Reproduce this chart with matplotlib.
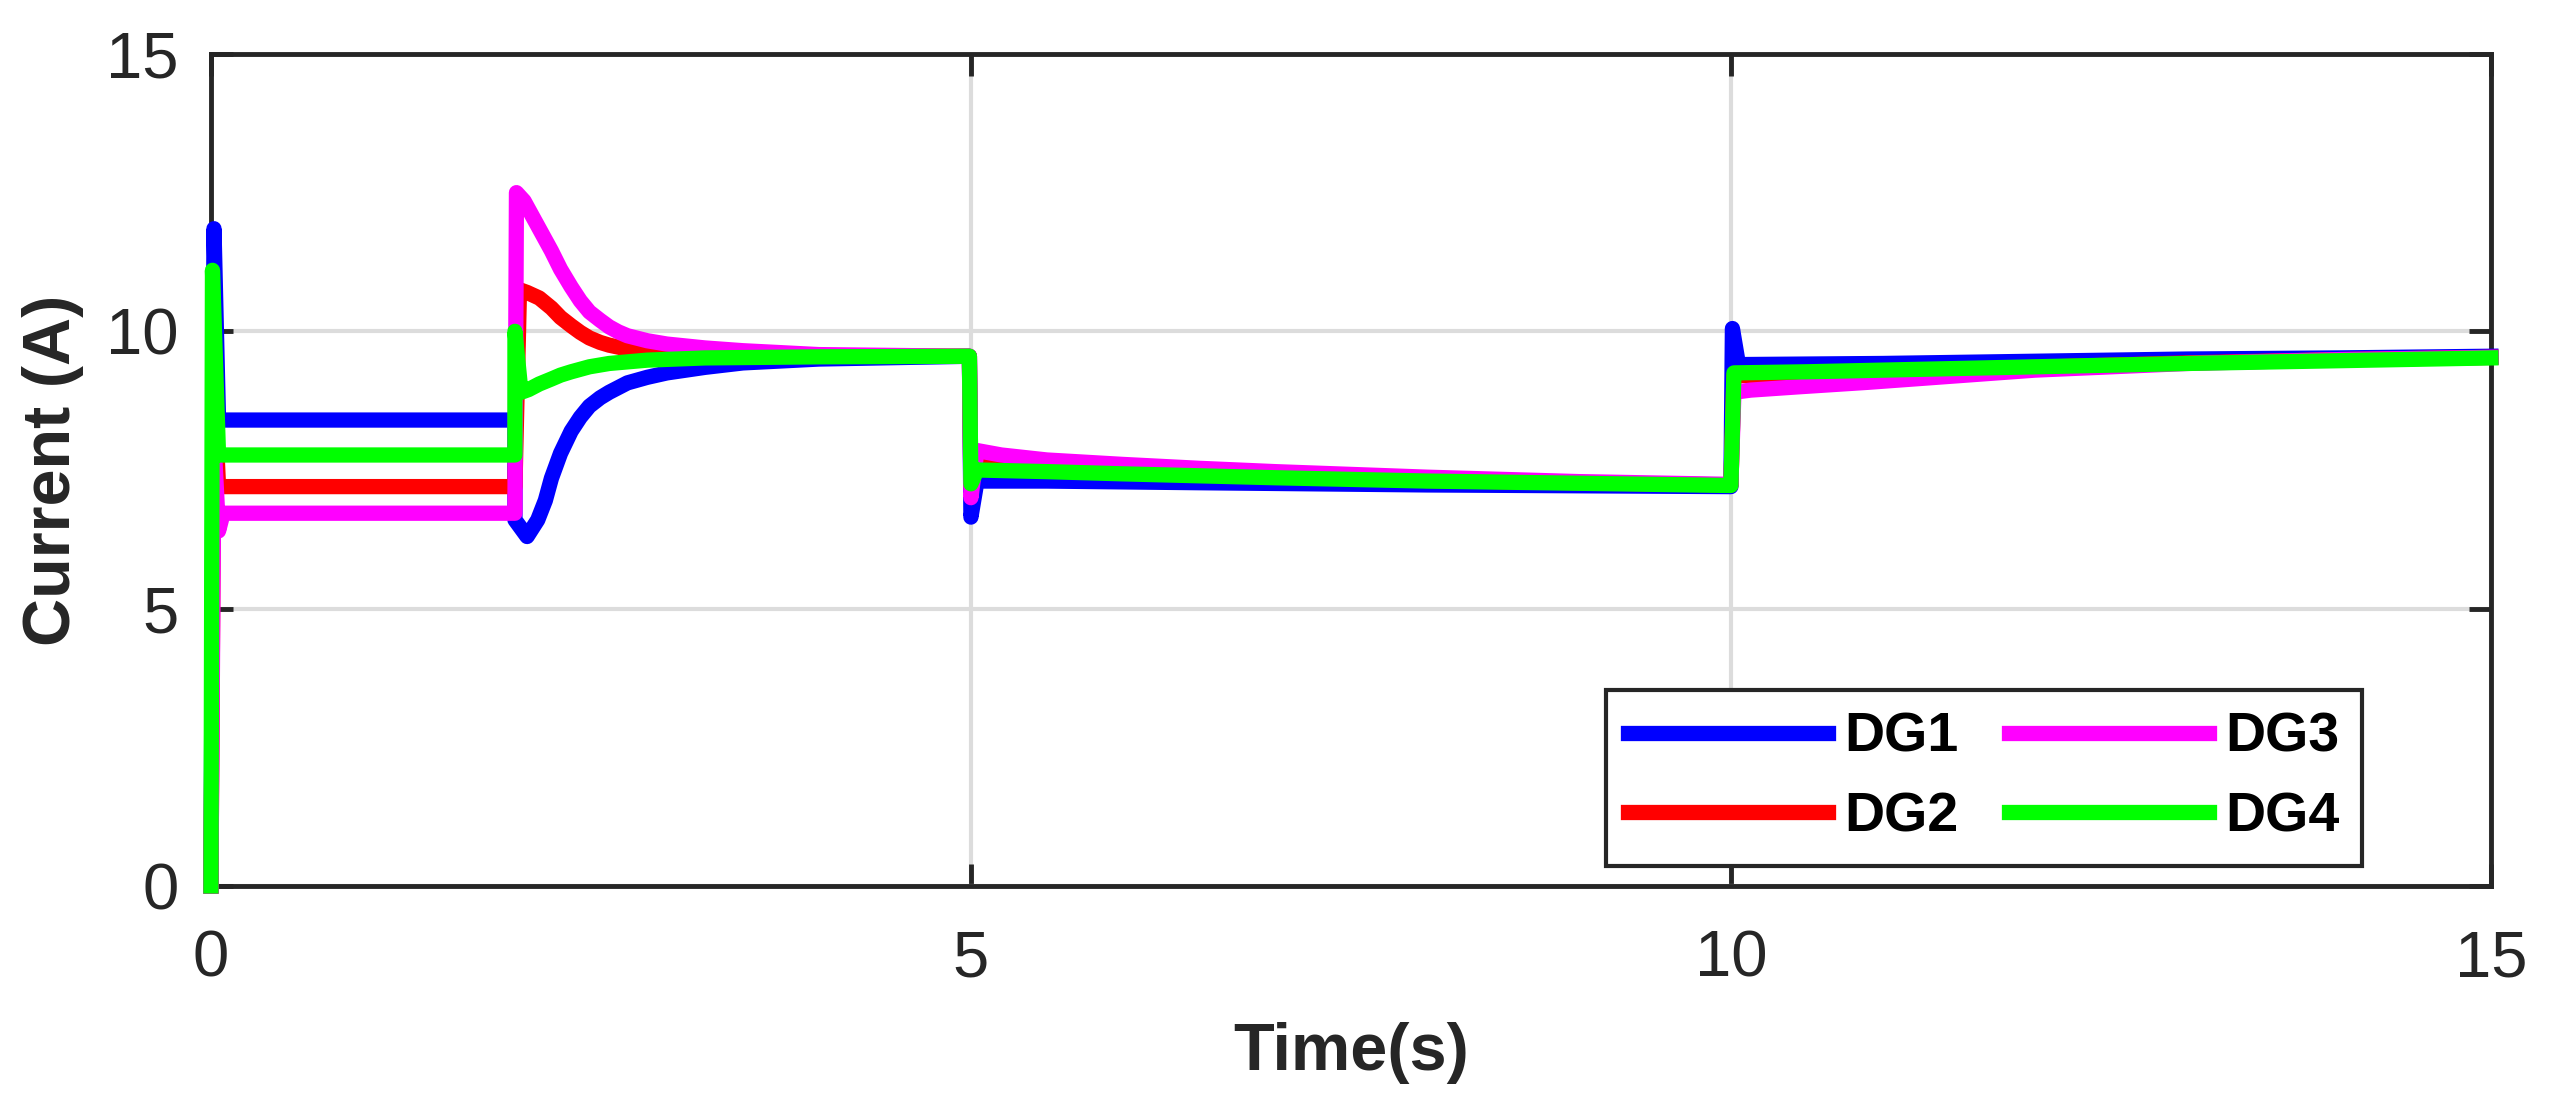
import matplotlib
matplotlib.use("Agg")
import matplotlib.pyplot as plt

plt.rcParams['font.family'] = ['Liberation Sans', 'DejaVu Sans']

# DG1 (blue)
t_dg1 = [0, 0.02, 0.05, 2.0, 2.0, 2.08, 2.15, 2.2, 2.24, 2.3, 2.37, 2.43, 2.49, 2.56, 2.62, 2.74, 2.87, 3.0,
         3.25, 3.5, 4.0, 4.99, 5.0, 5.04, 5.5, 6.5, 8.0, 10.0, 10.01, 10.05, 11.0, 12.0, 13.0, 14.0, 15.0]
i_dg1 = [0, 11.85, 8.4, 8.4, 6.6, 6.3, 6.6, 6.95, 7.35, 7.8, 8.2, 8.45, 8.65, 8.8, 8.9, 9.07, 9.17, 9.25,
         9.35, 9.43, 9.5, 9.55, 6.65, 7.3, 7.3, 7.27, 7.23, 7.2, 10.05, 9.4, 9.42, 9.46, 9.5, 9.52, 9.55]

# DG2 (red)
t_dg2 = [0, 0.02, 0.05, 2.0, 2.03, 2.08, 2.16, 2.24, 2.3, 2.37, 2.43, 2.49, 2.56, 2.62, 2.74, 2.87, 3.0,
         3.5, 4.99, 5.0, 5.04, 5.5, 6.0, 7.0, 8.0, 9.0, 10.0, 10.02, 10.5, 11.0, 12.0, 13.0, 14.0, 15.0]
i_dg2 = [0, 9.0, 7.2, 7.2, 10.75, 10.7, 10.6, 10.42, 10.25, 10.1, 9.98, 9.88, 9.8, 9.75, 9.68, 9.63, 9.6,
         9.57, 9.55, 7.2, 7.6, 7.53, 7.48, 7.38, 7.31, 7.27, 7.23, 9.2, 9.22, 9.27, 9.35, 9.43, 9.49, 9.53]

# DG3 (magenta)
t_dg3 = [0, 0.02, 0.05, 0.08, 2.0, 2.01, 2.06, 2.12, 2.18, 2.24, 2.3, 2.37, 2.43, 2.49, 2.56, 2.62, 2.68,
         2.74, 2.87, 3.0, 3.25, 3.5, 4.0, 4.99, 5.0, 5.04, 5.2, 5.5, 6.0, 6.5, 7.0, 8.0, 9.0, 10.0, 10.02,
         10.13, 10.45, 10.9, 11.5, 12.0, 13.0, 14.0, 15.0]
i_dg3 = [0, 8.0, 6.4, 6.72, 6.72, 12.5, 12.35, 12.05, 11.75, 11.45, 11.12, 10.8, 10.55, 10.35, 10.2, 10.08,
         9.99, 9.92, 9.83, 9.77, 9.7, 9.65, 9.58, 9.55, 7.0, 7.85, 7.77, 7.68, 7.6, 7.53, 7.47, 7.37, 7.29,
         7.24, 8.9, 8.94, 9.0, 9.08, 9.2, 9.3, 9.42, 9.49, 9.53]

# DG4 (green)
t_dg4 = [0, 0.01, 0.05, 2.0, 2.0, 2.04, 2.09, 2.16, 2.24, 2.3, 2.37, 2.49, 2.62, 2.87, 3.25, 4.0, 4.99,
         5.0, 5.04, 5.5, 6.0, 7.0, 8.0, 9.0, 10.0, 10.02, 10.5, 11.0, 12.0, 13.0, 14.0, 15.0]
i_dg4 = [0, 11.1, 7.77, 7.77, 10.0, 8.9, 8.95, 9.05, 9.14, 9.21, 9.27, 9.36, 9.42, 9.48, 9.52, 9.54, 9.55,
         7.25, 7.5, 7.47, 7.43, 7.36, 7.3, 7.26, 7.22, 9.25, 9.27, 9.3, 9.36, 9.42, 9.47, 9.52]

series = [("DG1", t_dg1, i_dg1, "#0000ff"),
          ("DG2", t_dg2, i_dg2, "#ff0000"),
          ("DG3", t_dg3, i_dg3, "#ff00ff"),
          ("DG4", t_dg4, i_dg4, "#00ff00")]

fig = plt.figure(figsize=(25.6, 11.13), dpi=100)
ax = fig.add_axes([0.0824, 0.204, 0.8906, 0.7475])

for name, t, i, c in series:
    ax.plot(t, i, color=c, lw=11, label=name, zorder=3, clip_on=False)

ax.set_xlim(0, 15)
ax.set_ylim(0, 15)
ax.set_xticks([0, 5, 10, 15])
ax.set_yticks([0, 5, 10, 15])
ax.grid(True, color="#dcdcdc", lw=3)
ax.set_axisbelow(True)

for s in ax.spines.values():
    s.set_linewidth(3.5)
    s.set_color("#262626")
    s.set_zorder(2.5)

ax.tick_params(direction="in", top=True, right=True, length=16, width=3.5, color="#262626",
               labelsize=47, labelcolor="#262626")
ax.tick_params(axis="x", pad=31)
ax.tick_params(axis="y", pad=23.5)

ax.set_xlabel("Time(s)", fontsize=48, fontweight="bold", color="#262626", labelpad=24)
ax.set_ylabel("Current (A)", fontsize=48, fontweight="bold", color="#262626", labelpad=16)

leg = ax.legend(ncol=2, loc="lower right", bbox_to_anchor=(0.9434, 0.024), fancybox=False,
                edgecolor="#262626", framealpha=1, borderaxespad=0,
                prop={"size": 40, "weight": "bold"}, handlelength=3.6, handletextpad=0.3,
                columnspacing=0.9, labelspacing=0.5, borderpad=0.4)
leg.get_frame().set_linewidth(3)
leg.set_zorder(10)

fig.savefig("out.png", dpi=100)
